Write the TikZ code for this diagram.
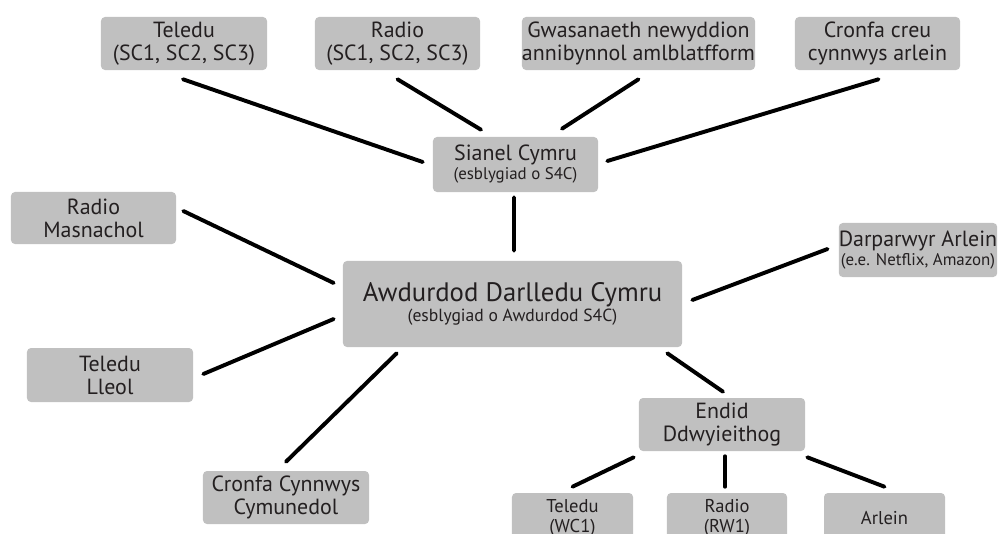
\documentclass[tikz,border=0pt]{standalone}
\usepackage{fontspec}
\setmainfont{PT Sans}
\usetikzlibrary{calc}
\definecolor{boxgray}{RGB}{192,192,192}
\definecolor{txt}{RGB}{35,31,32}
\tikzset{
  box/.style={fill=boxgray, rounded corners=0.1cm, inner sep=0pt, align=center, text=txt},
  big/.style={font=\fontsize{15.6}{16.4}\selectfont},
  sm/.style={font=\fontsize{13.2}{14.5}\selectfont},
  link/.style={line width=2.8pt, line cap=round, black}
}
\begin{document}
\begin{tikzpicture}[x=0.025cm, y=-0.025cm]
\useasboundingbox (0,0) rectangle (1003,533);
\clip (0,0) rectangle (1003,533);
% top row
\node[box, big, minimum width=4.15cm, minimum height=1.325cm] (tv) at (184,43.5) {Teledu\\(SC1, SC2, SC3)};
\node[box, big, minimum width=4.125cm, minimum height=1.325cm] (radio) at (397.5,43.5) {Radio\\(SC1, SC2, SC3)};
\node[box, big, minimum width=5.625cm, minimum height=1.325cm] (gwas) at (638.5,43.5) {Gwasanaeth newyddion\\annibynnol amlblatfform};
\node[box, big, minimum width=4.125cm, minimum height=1.325cm] (cronfa) at (877.5,43.5) {Cronfa creu\\cynnwys arlein};
% Sianel
\node[box, minimum width=4.125cm, minimum height=1.375cm] (sianel) at (515.5,164.5)
  {{\fontsize{15.6}{14}\selectfont Sianel Cymru}\\[1.5pt]{\fontsize{12}{13}\selectfont (esblygiad o S4C)}};
% centre
\node[box, minimum width=8.475cm, minimum height=2.15cm] (awd) at (512.5,304)
  {{\fontsize{19}{15}\selectfont Awdurdod Darlledu Cymru}\\[1pt]{\fontsize{12.5}{13}\selectfont (esblygiad o Awdurdod S4C)}};
% left
\node[box, big, minimum width=4.125cm, minimum height=1.3cm] (radiom) at (93.5,218) {Radio\\Masnachol};
\node[box, big, minimum width=4.15cm, minimum height=1.35cm] (tvl) at (110,375) {Teledu\\Lleol};
\node[box, big, minimum width=4.15cm, minimum height=1.325cm] (cynn) at (286,497.5) {Cronfa Cynnwys\\Cymunedol};
% right
\node[box, minimum width=3.95cm, minimum height=1.35cm] (darp) at (918,250)
  {{\fontsize{15.6}{14}\selectfont Darparwyr Arlein}\\[1pt]{\fontsize{12}{13}\selectfont (e.e. Netflix, Amazon)}};
\node[box, big, minimum width=4.15cm, minimum height=1.325cm] (endid) at (722,424.5) {Endid\\Ddwyieithog};
% bottom
\node[box, sm, minimum width=3.025cm, minimum height=1.25cm] (wc1) at (572.5,518) {Teledu\\(WC1)};
\node[box, sm, minimum width=3.0cm, minimum height=1.25cm] (rw1) at (727,518) {Radio\\(RW1)};
\node[box, sm, minimum width=3.025cm, minimum height=1.25cm] (arlein) at (884.5,518) {Arlein};
% connectors
\draw[link] ($(tv.south)+(-1,9)$) -- ($(sianel.west)+(-10,-2.5)$);
\draw[link] ($(radio.south)+(0,9)$) -- ($(sianel.north)+(-34.5,-7)$);
\draw[link] ($(gwas.south)+(0,9)$) -- ($(sianel.north)+(46.5,-8)$);
\draw[link] ($(cronfa.south)+(1,9)$) -- ($(sianel.east)+(9,-3.5)$);
\draw[link] ($(sianel.south)+(-1.5,5)$) -- ($(awd.north)+(1.5,-10)$);
\draw[link] ($(radiom.east)+(7,-7)$) -- ($(awd.west)+(-9,-21)$);
\draw[link] ($(tvl.east)+(10,-1)$) -- ($(awd.west)+(-9,15)$);
\draw[link] ($(cynn.north)+(0,-9)$) -- ($(awd.south west)+(54,6)$);
\draw[link] ($(darp.west)+(-11,-1)$) -- ($(awd.east)+(10,-4)$);
\draw[link] ($(awd.south east)+(-15,6)$) -- ($(endid.north)+(1,-6)$);
\draw[link] ($(endid.south west)+(-5,6)$) -- ($(wc1.north)+(0,-6)$);
\draw[link] ($(endid.south)+(3,5)$) -- ($(rw1.north)+(-2,-6)$);
\draw[link] ($(endid.south east)+(2,6)$) -- ($(arlein.north)+(0,-6)$);
\end{tikzpicture}
\end{document}
